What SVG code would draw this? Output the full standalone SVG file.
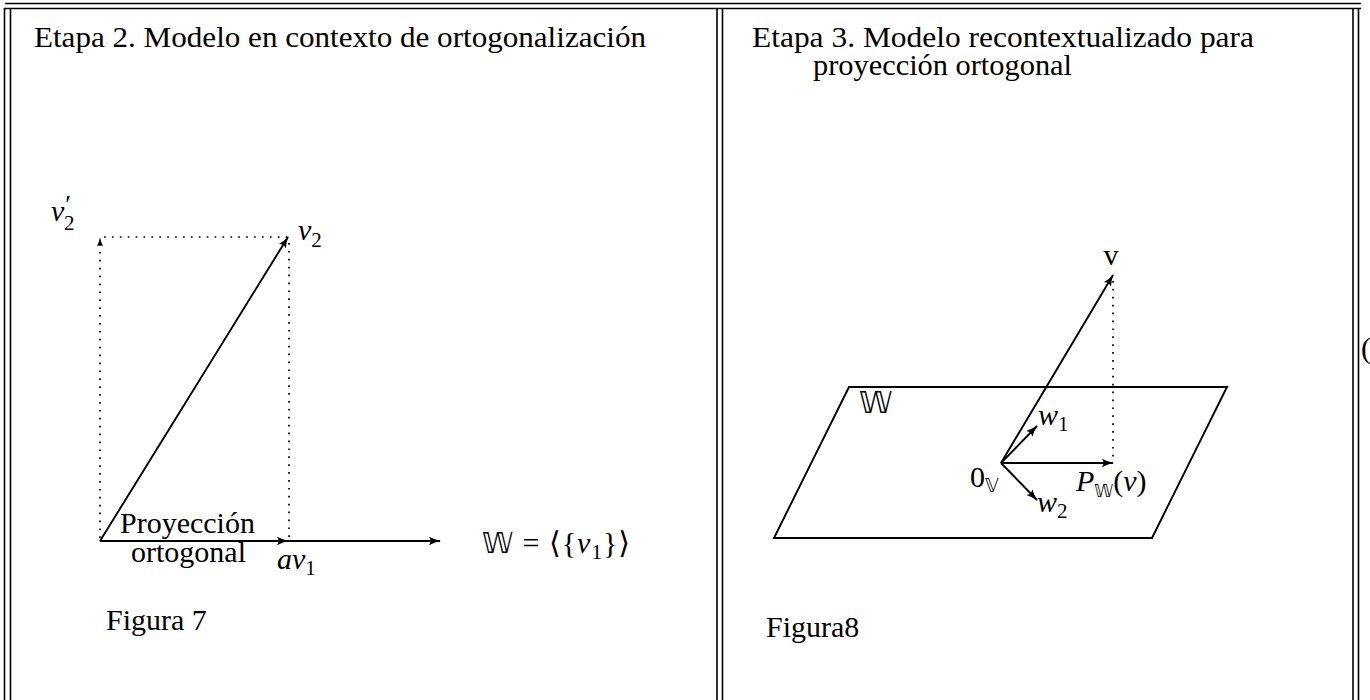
<svg xmlns="http://www.w3.org/2000/svg" width="1370" height="700" viewBox="0 0 1370 700">
<style>
.t{font-family:"Liberation Serif","DejaVu Serif",serif;font-size:30px;fill:#000}
.i{font-style:italic}
.s{font-size:21px}
.bb{font-family:"DejaVu Sans","DejaVu Serif",sans-serif;font-weight:normal}
.b{stroke:#000;stroke-width:1.6;fill:none}
.ln{stroke:#000;stroke-width:1.9;fill:none}
.dt{stroke:#000;stroke-width:1.7;fill:none;stroke-dasharray:1.7 6.2}
</style>
<defs>
<marker id="ah" viewBox="0 0 12 10" refX="11" refY="5" markerWidth="12" markerHeight="10" markerUnits="userSpaceOnUse" orient="auto">
<path d="M0,0.8 Q6,4 12,5 Q6,6 0,9.2 Q3,5 0,0.8 z" fill="#000"/>
</marker>
<marker id="ahs" viewBox="0 0 12 10" refX="11" refY="5" markerWidth="9" markerHeight="8" markerUnits="userSpaceOnUse" orient="auto">
<path d="M0,0.8 Q6,4 12,5 Q6,6 0,9.2 Q3,5 0,0.8 z" fill="#000"/>
</marker>
</defs>
<rect width="1370" height="700" fill="#fff"/>
<g id="frame">
<line class="b" x1="5" y1="3.5" x2="1361" y2="3.5"/>
<line class="b" x1="4" y1="8.5" x2="1361" y2="8.5"/>
<line class="b" x1="4.5" y1="8" x2="4.5" y2="700"/>
<line class="b" x1="10.5" y1="8" x2="10.5" y2="700"/>
<line class="b" x1="717" y1="8" x2="717" y2="700"/>
<line class="b" x1="722.5" y1="8" x2="722.5" y2="700"/>
<line class="b" x1="1353" y1="8" x2="1353" y2="700"/>
<line class="b" x1="1358.5" y1="8" x2="1358.5" y2="700"/>
</g>
<g id="title-left"><text class="t" x="34" y="47" textLength="612" lengthAdjust="spacingAndGlyphs">Etapa 2. Modelo en contexto de ortogonalización</text></g>
<g id="title-right">
<text class="t"><tspan x="752" y="47" textLength="502" lengthAdjust="spacingAndGlyphs">Etapa 3. Modelo recontextualizado para</tspan><tspan x="813" y="75" textLength="259" lengthAdjust="spacingAndGlyphs">proyección ortogonal</tspan></text>
</g>
<g id="connectors">
<line class="ln" x1="100" y1="541" x2="440" y2="541" marker-end="url(#ah)"/>
<line class="ln" x1="100" y1="541" x2="288" y2="541" marker-end="url(#ah)"/>
<line class="ln" x1="100" y1="541" x2="288" y2="237" marker-end="url(#ah)"/>
<line class="dt" x1="100" y1="538" x2="100" y2="238" marker-end="url(#ahs)"/>
<line class="dt" x1="104" y1="237" x2="289" y2="237"/>
<line class="dt" x1="289" y1="243" x2="289" y2="538"/>
<polygon class="ln" points="849,387 1227,387 1152,538 774,538"/>
<line class="ln" x1="1001" y1="463" x2="1113" y2="275" marker-end="url(#ah)"/>
<line class="dt" x1="1113" y1="281" x2="1113" y2="460"/>
<line class="ln" x1="1001" y1="463" x2="1113" y2="463" marker-end="url(#ah)"/>
<line class="ln" x1="1001" y1="463" x2="1037" y2="426" marker-end="url(#ah)"/>
<line class="ln" x1="1001" y1="463" x2="1037" y2="500" marker-end="url(#ah)"/>
</g>
<g id="label-v2p"><text class="t" x="51" y="221"><tspan class="i">v</tspan><tspan font-size="26" dx="1" dy="-8">′</tspan><tspan class="s" x="64" y="230">2</tspan></text></g>
<g id="label-v2"><text class="t" x="298" y="240"><tspan class="i">v</tspan><tspan class="s" dy="7">2</tspan></text></g>
<g id="label-proy"><text class="t"><tspan x="120" y="533">Proyección</tspan><tspan x="131" y="562">ortogonal</tspan></text></g>
<g id="label-av1"><text class="t" x="277" y="569"><tspan class="i">av</tspan><tspan class="s" dy="6">1</tspan></text></g>
<g id="label-W-span"><text class="t" x="482" y="553" textLength="148"><tspan class="bb" font-size="28">𝕎</tspan> = ⟨{<tspan class="i">v</tspan><tspan class="s" dy="6">1</tspan><tspan dy="-6">}⟩</tspan></text></g>
<g id="caption-7"><text class="t" x="106" y="630">Figura 7</text></g>
<g id="label-v"><text class="t" x="1111" y="265" text-anchor="middle">v</text></g>
<g id="label-W"><text class="t bb" x="859" y="413" font-size="24">𝕎</text></g>
<g id="label-w1"><text class="t" x="1038" y="425"><tspan class="i">w</tspan><tspan class="s" dy="6">1</tspan></text></g>
<g id="label-w2"><text class="t" x="1037" y="512"><tspan class="i">w</tspan><tspan class="s" dy="6">2</tspan></text></g>
<g id="label-0V"><text class="t" x="970" y="487">0<tspan class="bb" font-size="19" dy="5">𝕍</tspan></text></g>
<g id="label-PWv"><text class="t" x="1076" y="491"><tspan class="i">P</tspan><tspan class="bb" font-size="17" dy="6">𝕎</tspan><tspan dy="-6">(</tspan><tspan class="i">v</tspan>)</text></g>
<g id="caption-8"><text class="t" x="766" y="637">Figura8</text></g>
<g id="paren"><text class="t" x="1361" y="358">(</text></g>
</svg>
